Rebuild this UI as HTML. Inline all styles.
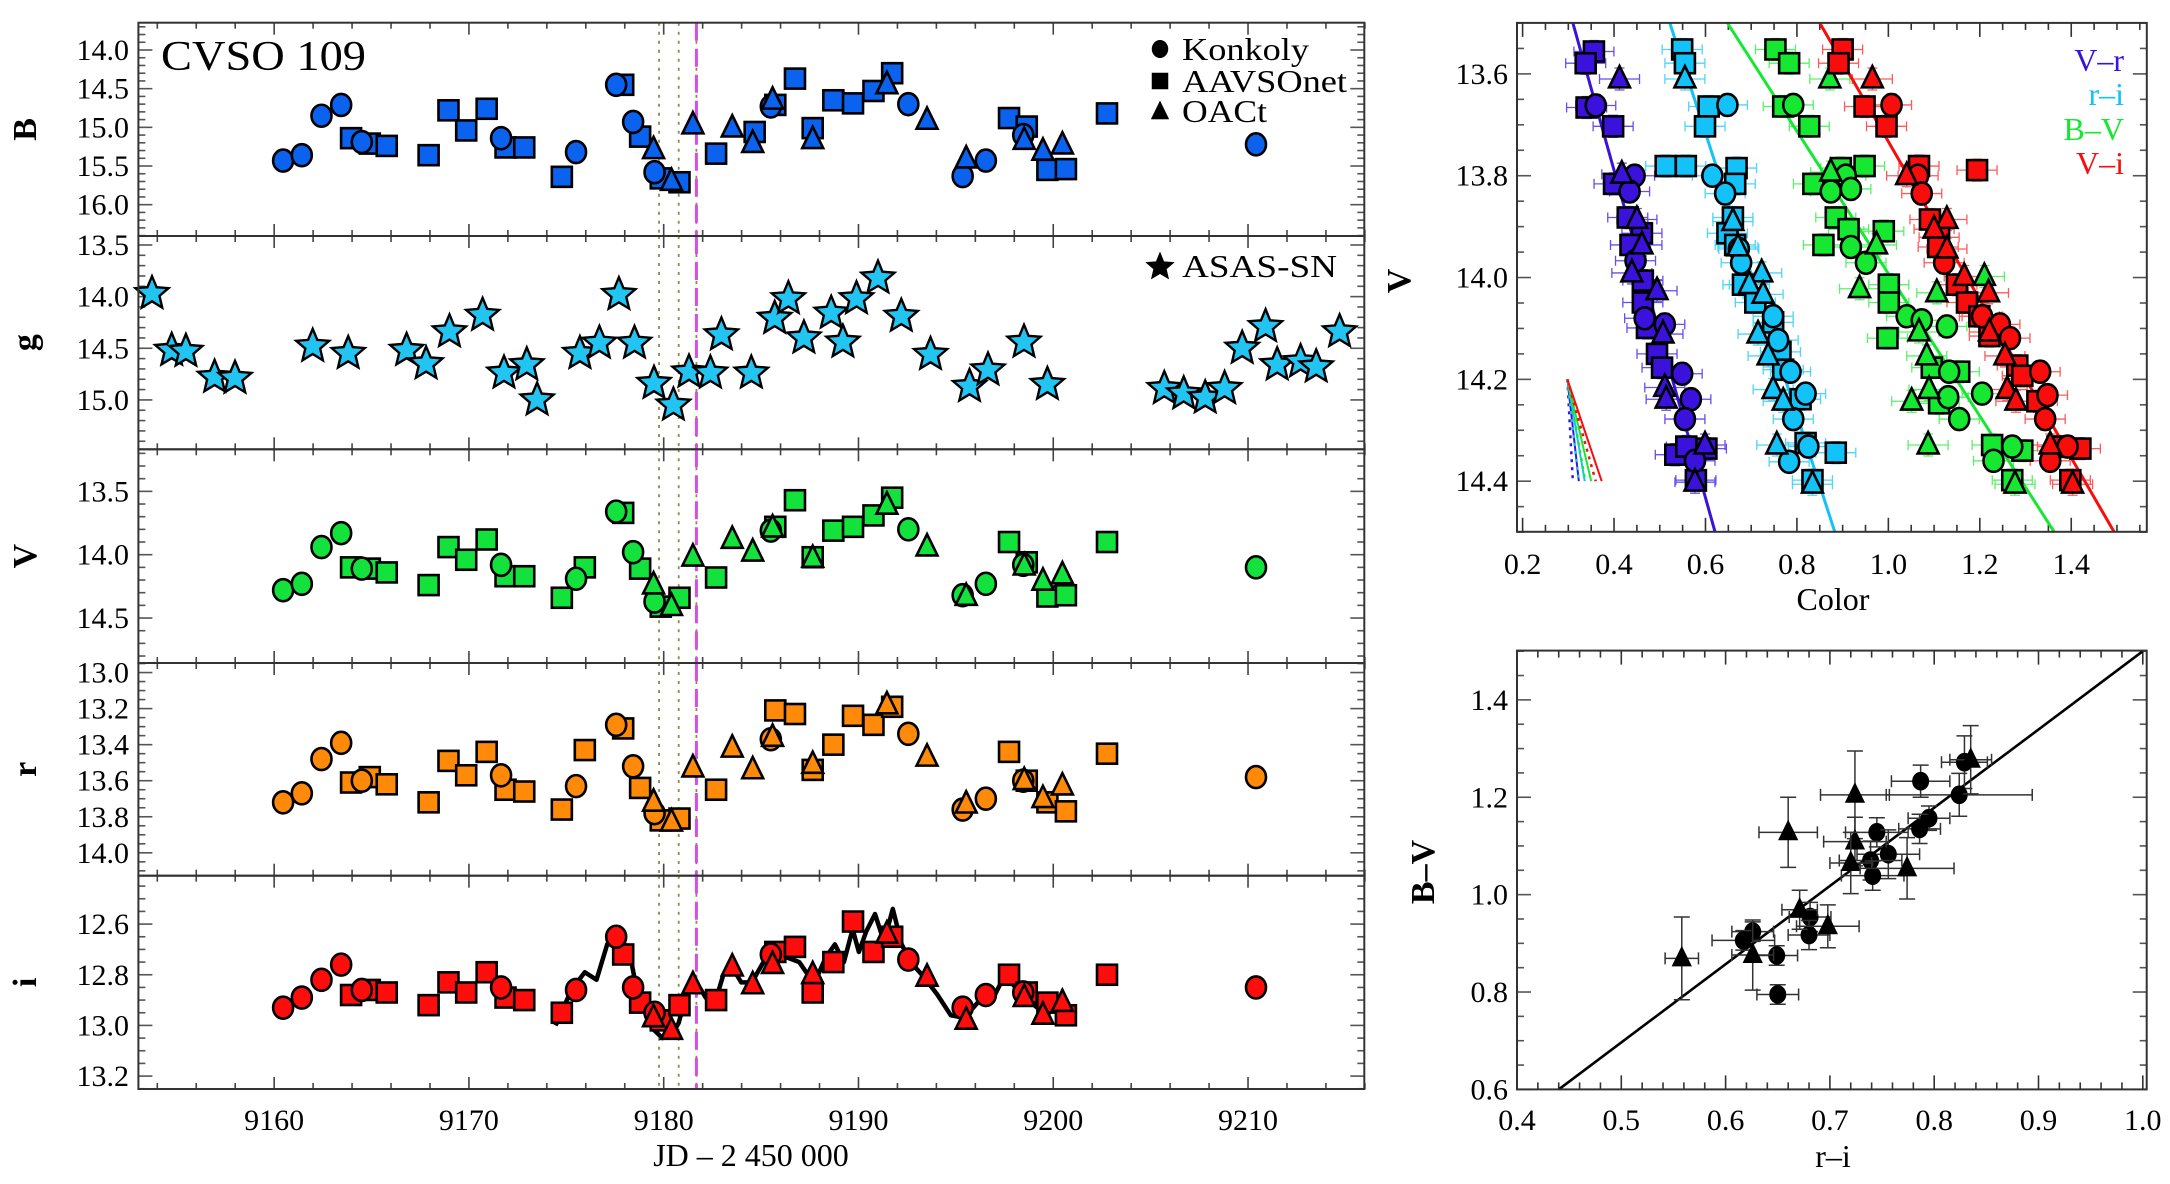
<!DOCTYPE html>
<html><head><meta charset="utf-8"><style>
html,body{margin:0;padding:0;background:#fff}
svg{display:block}
text{font-family:"Liberation Serif",serif;fill:#000}
</style></head><body>
<svg id="fig" xmlns="http://www.w3.org/2000/svg" width="2170" height="1184" viewBox="0 0 2170 1184"></svg>
<script>
// ---------- Light-curve data ----------
const konkolyJD=[9160.46,9161.42,9162.43,9163.44,9164.50,9171.65,9175.50,9177.56,9178.43,9179.53,9185.50,9192.56,9195.35,9196.54,9198.46,9210.41];
const konkolyB=[15.43,15.36,14.85,14.71,15.19,15.14,15.32,14.45,14.93,15.58,14.73,14.70,15.63,15.43,15.10,15.22];
const konkolyV=[14.28,14.23,13.94,13.83,14.11,14.08,14.19,13.66,13.98,14.37,13.81,13.80,14.32,14.23,14.08,14.10];
const konkolyR=[13.72,13.67,13.48,13.39,13.60,13.57,13.63,13.29,13.52,13.78,13.37,13.34,13.76,13.70,13.60,13.58];
const konkolyI=[12.93,12.89,12.82,12.76,12.86,12.85,12.86,12.65,12.85,12.95,12.72,12.74,12.93,12.88,12.87,12.85];

const aavsoJD=[9163.95,9164.91,9165.78,9167.93,9168.95,9169.86,9170.91,9171.88,9172.84,9174.77,9175.95,9177.92,9178.79,9179.85,9180.81,9182.69,9184.67,9185.73,9186.74,9187.65,9188.71,9189.72,9190.77,9191.73,9197.73,9198.64,9199.70,9200.65,9202.76];
const aavsoB=[15.14,15.21,15.24,15.36,14.78,15.04,14.76,15.26,15.26,15.64,null,14.45,15.12,15.66,15.71,15.34,15.06,14.71,14.37,15.01,14.65,14.69,14.53,14.30,14.88,14.99,15.55,15.54,14.82];
const aavsoV=[14.10,14.11,14.14,14.24,13.94,14.04,13.88,14.17,14.17,14.34,14.10,13.67,14.11,14.41,14.34,14.18,null,13.78,13.57,14.02,13.81,13.78,13.69,13.55,13.90,14.06,14.33,14.32,13.90];
const aavsoR=[13.61,13.58,13.62,13.72,13.49,13.57,13.44,13.65,13.66,13.76,13.43,13.31,13.64,13.82,13.81,13.65,null,13.21,13.23,13.54,13.40,13.24,13.29,13.19,13.44,13.60,13.72,13.77,13.45];
const aavsoI=[12.88,12.86,12.87,12.92,12.83,12.87,12.79,12.89,12.90,12.95,null,12.72,12.91,12.98,12.92,12.90,null,12.71,12.69,12.87,12.75,12.59,12.71,12.65,12.80,12.87,12.91,12.96,12.80];

const oactJD=[9179.48,9180.40,9181.50,9183.52,9184.57,9185.59,9187.65,9191.46,9193.52,9195.53,9198.51,9199.47,9200.47];
const oactB=[15.29,15.70,14.97,15.01,15.21,14.65,15.16,14.45,14.91,15.41,15.17,15.31,15.23];
const oactV=[14.24,14.41,14.02,13.88,13.98,13.79,14.03,13.61,13.94,14.33,14.09,14.21,14.16];
const oactR=[13.72,13.83,13.53,13.42,13.54,13.36,13.51,13.18,13.47,13.73,13.60,13.70,13.63];
const oactI=[12.97,13.02,12.84,12.77,12.84,12.76,12.80,12.64,12.81,12.98,12.89,12.96,12.91];

const asasJD=[9153.73,9154.74,9155.47,9156.94,9157.99,9161.98,9163.80,9166.80,9167.80,9169.00,9170.70,9171.80,9172.97,9173.50,9175.70,9176.70,9177.70,9178.50,9179.50,9180.50,9181.30,9182.40,9182.96,9184.50,9185.70,9186.40,9187.20,9188.60,9189.20,9189.90,9191.00,9192.20,9193.70,9195.70,9196.65,9198.50,9199.70,9205.70,9206.70,9207.80,9208.80,9209.70,9210.90,9211.50,9212.70,9213.50,9214.70];
const asasG=[13.97,14.52,14.53,14.78,14.79,14.48,14.55,14.52,14.65,14.34,14.18,14.74,14.66,15.00,14.55,14.45,13.98,14.45,14.84,15.05,14.73,14.74,14.37,14.74,14.21,14.02,14.40,14.16,14.44,14.02,13.82,14.19,14.56,14.87,14.71,14.44,14.85,14.89,14.94,14.98,14.89,14.50,14.29,14.66,14.63,14.68,14.34];

const tessJD=[9174.45,9175.26,9175.95,9176.55,9177.10,9177.56,9178.00,9178.34,9178.57,9178.93,9179.39,9179.94,9180.40,9180.77,9181.23,9181.69,9182.15,9182.60,9183.06,9183.52,9183.98,9184.53,9185.12,9185.59,9186.27,9186.96,9187.41,9187.87,9188.33,9188.79,9189.25,9189.70,9190.02,9190.39,9190.85,9191.31,9191.76,9192.22,9192.68,9193.37,9194.06,9194.74,9195.43,9195.89,9196.35,9196.80,9197.26,9197.63,9197.95,9198.41,9198.87,9199.33,9199.79,9200.25,9200.71];
const tessI=[13.00,12.86,12.79,12.82,12.68,12.63,12.68,12.75,12.84,12.93,13.01,13.05,13.04,12.99,12.86,12.83,12.89,12.92,12.80,12.77,12.83,12.83,12.75,12.71,12.73,12.75,12.80,12.81,12.73,12.68,12.75,12.62,12.71,12.63,12.56,12.67,12.54,12.68,12.75,12.81,12.88,12.96,12.97,12.93,12.89,12.91,12.84,12.77,12.84,12.88,12.91,12.94,12.95,12.91,12.94];

const markerJD=[9179.76,9180.77,9181.68];
const eventJD=9181.68;
const jdTicks=[9160,9170,9180,9190,9200,9210];

// ---------- Colour-magnitude data ----------
const vrSqC=[0.356,0.338,0.340,0.398,0.400,0.430,0.461,0.436,0.463,0.463,0.472,0.494,0.505,0.534,0.579,0.558,0.602];
const vrSqV=[13.556,13.579,13.666,13.703,13.816,13.882,13.913,13.936,14.006,14.049,14.099,14.150,14.177,14.348,14.398,14.332,14.336];
const vrCiC=[0.360,0.445,0.434,0.447,0.467,0.511,0.549,0.568,0.555,0.577];
const vrCiV=[13.662,13.800,13.831,13.967,14.080,14.092,14.189,14.239,14.278,14.360];
const vrTrC=[0.412,0.417,0.450,0.461,0.439,0.494,0.507,0.511,0.514,0.599,0.577];
const vrTrV=[13.610,13.797,13.886,13.936,13.991,14.026,14.111,14.216,14.239,14.329,14.402];

const riSqC=[0.549,0.555,0.607,0.599,0.513,0.557,0.668,0.665,0.660,0.648,0.665,0.682,0.709,0.748,0.764,0.770,0.808,0.819,0.885,0.834];
const riSqV=[13.552,13.579,13.664,13.703,13.781,13.781,13.785,13.816,13.882,13.913,13.936,14.014,14.049,14.088,14.146,14.181,14.239,14.325,14.344,14.398];
const riCiC=[0.648,0.615,0.643,0.673,0.678,0.748,0.759,0.786,0.819,0.792,0.825,0.783];
const riCiV=[13.661,13.800,13.835,13.944,13.971,14.076,14.123,14.185,14.228,14.278,14.332,14.362];
const riTrC=[0.555,0.660,0.671,0.723,0.696,0.726,0.715,0.737,0.748,0.770,0.756,0.834];
const riTrV=[13.610,13.890,13.940,13.991,14.014,14.033,14.111,14.154,14.220,14.243,14.329,14.406];

const bvSqC=[0.753,0.783,0.770,0.827,0.896,0.948,0.836,0.885,0.913,0.990,0.858,1.001,1.001,0.998,1.095,1.155,1.111,1.227,1.293,1.271];
const bvSqV=[13.552,13.579,13.664,13.703,13.785,13.781,13.816,13.882,13.905,13.909,13.936,14.014,14.049,14.119,14.177,14.185,14.247,14.329,14.340,14.398];
const bvCiC=[0.792,0.907,0.874,0.918,0.918,0.951,1.040,1.073,1.128,1.133,1.131,1.155,1.205,1.271,1.230];
const bvCiV=[13.661,13.800,13.831,13.826,13.940,13.971,14.076,14.084,14.096,14.185,14.235,14.278,14.228,14.332,14.360];
const bvTrC=[0.872,0.874,0.974,0.937,1.210,1.106,1.067,1.084,1.089,1.051,1.087,1.277];
const bvTrV=[13.610,13.793,13.936,14.022,13.998,14.030,14.107,14.154,14.220,14.243,14.329,14.406];

const viSqC=[0.900,0.891,0.948,0.996,1.067,1.194,1.091,1.111,1.109,1.150,1.172,1.199,1.221,1.282,1.293,1.326,1.370,1.420,1.398];
const viSqV=[13.552,13.579,13.664,13.703,13.781,13.789,13.886,13.921,13.940,14.014,14.049,14.076,14.115,14.173,14.193,14.243,14.332,14.336,14.398];
const viCiC=[1.007,1.065,1.073,1.122,1.205,1.244,1.266,1.332,1.348,1.343,1.392,1.354];
const viCiV=[13.661,13.800,13.835,13.971,14.076,14.092,14.119,14.185,14.231,14.278,14.332,14.360];
const viTrC=[0.965,1.040,1.128,1.100,1.128,1.166,1.219,1.221,1.255,1.260,1.279,1.354,1.403];
const viTrV=[13.610,13.800,13.886,13.905,13.944,13.998,14.030,14.107,14.154,14.220,14.243,14.329,14.406];

// fit lines: colour at V=13.5 and V=14.5
const fitVr=[0.310,0.621], fitRi=[0.522,0.883], fitBv=[0.648,1.363], fitVi=[0.850,1.494];
// reddening vectors: start colour/V, end colour at V=14.4
const redStart=[0.298,14.2];
const redEnd=[0.323,0.336,0.350,0.373];
const cmdXTicks=[0.2,0.4,0.6,0.8,1.0,1.2,1.4];
const cmdYTicks=[13.6,13.8,14.0,14.2,14.4];

// ---------- Colour-colour data ----------
const ccCiRI=[0.829,0.787,0.824,0.795,0.786,0.745,0.756,0.739,0.741,0.681,0.680,0.626,0.617,0.649,0.650];
const ccCiBV=[1.272,1.233,1.205,1.157,1.135,1.128,1.083,1.070,1.039,0.954,0.917,0.924,0.906,0.875,0.795];
const ccCiXe=[0.022,0.028,0.070,0.02,0.02,0.03,0.03,0.03,0.03,0.02,0.02,0.02,0.03,0.02,0.02];
const ccCiYe=[0.054,0.033,0.044,0.025,0.03,0.03,0.05,0.04,0.03,0.03,0.03,0.02,0.02,0.02,0.02];
const ccTrRI=[0.835,0.724,0.660,0.724,0.720,0.774,0.671,0.698,0.626,0.558];
const ccTrBV=[1.277,1.205,1.128,1.109,1.065,1.054,0.969,0.935,0.876,0.869];
const ccTrXe=[0.02,0.033,0.028,0.03,0.02,0.045,0.017,0.03,0.02,0.016];
const ccTrYe=[0.07,0.09,0.072,0.05,0.063,0.063,0.04,0.044,0.072,0.085];
const ccFit=[0.44,0.60,1.00,1.50];
const ccXTicks=[0.4,0.5,0.6,0.7,0.8,0.9,1.0];
const ccYTicks=[0.6,0.8,1.0,1.2,1.4];

// ---------- helpers ----------
const NS='http://www.w3.org/2000/svg';
const svg=document.getElementById('fig');
function mk(tag,attrs,parent){const e=document.createElementNS(NS,tag);for(const k in attrs)e.setAttribute(k,attrs[k]);(parent||svg).appendChild(e);return e;}
function txt(s,attrs,parent){const e=mk('text',attrs,parent);e.textContent=s;return e;}
function starPts(cx,cy,R){let p=[];for(let k=0;k<10;k++){const r=k%2?R*0.45:R;const a=-Math.PI/2+k*Math.PI/5;p.push((cx+r*Math.cos(a)).toFixed(1)+','+(cy+r*Math.sin(a)).toFixed(1));}return p.join(' ');}
function marker(shape,cx,cy,s,fill,g,sw){
  let e;sw=sw||2.6;
  if(shape==='circle')e=mk('ellipse',{cx:cx,cy:cy,rx:s*0.5,ry:s*0.55,fill:fill,stroke:'#000','stroke-width':sw},g);
  else if(shape==='square')e=mk('rect',{x:cx-s/2,y:cy-s/2,width:s,height:s,fill:fill,stroke:'#000','stroke-width':sw},g);
  else if(shape==='triangle'){const h=s*1.1;e=mk('polygon',{points:`${cx},${cy-h*0.62} ${cx-s*0.55},${cy+h*0.4} ${cx+s*0.55},${cy+h*0.4}`,fill:fill,stroke:'#000','stroke-width':sw},g);}
  else e=mk('polygon',{points:starPts(cx,cy,s*0.62),fill:fill,stroke:'#000','stroke-width':sw},g);
  return e;
}

// ---------- left light-curve panels ----------
const LX0=138.4,LX1=1364.3,JD0=9153.03,JD1=9215.97;
function xL(jd){return LX0+(jd-JD0)/(JD1-JD0)*(LX1-LX0);}
const panels=[
 {band:'B',top:22.7,bot:236,m0:13.647,m1:16.405,ticks:[14.0,14.5,15.0,15.5,16.0],minor:0.1,col:'#0a62ee',k:konkolyB,a:aavsoB,o:oactB},
 {band:'g',top:236,bot:449.3,m0:13.413,m1:15.478,ticks:[13.5,14.0,14.5,15.0],minor:0.1,col:'#22c4f2'},
 {band:'V',top:449.3,bot:663,m0:13.168,m1:14.855,ticks:[13.5,14.0,14.5],minor:0.1,col:'#14e23c',k:konkolyV,a:aavsoV,o:oactV},
 {band:'r',top:663,bot:875.7,m0:12.947,m1:14.127,ticks:[13.0,13.2,13.4,13.6,13.8,14.0],minor:0.05,col:'#ff8a0a',k:konkolyR,a:aavsoR,o:oactR},
 {band:'i',top:875.7,bot:1089,m0:12.409,m1:13.251,ticks:[12.6,12.8,13.0,13.2],minor:0.05,col:'#ff0c0c',k:konkolyI,a:aavsoI,o:oactI}
];
panels.forEach(p=>{
  const g=mk('g',{});
  
  
  const yM=m=>p.top+(m-p.m0)/(p.m1-p.m0)*(p.bot-p.top);
  // ticks x
  for(let d=9154;d<=9216;d+=2){
    const x=xL(d);const maj=(d%10===0);const L=maj?12:6;
    mk('line',{x1:x,y1:p.top,x2:x,y2:p.top+L,stroke:'#444','stroke-width':1.6},g);
    mk('line',{x1:x,y1:p.bot,x2:x,y2:p.bot-L,stroke:'#444','stroke-width':1.6},g);
  }
  // ticks y
  const n0=Math.ceil(p.m0/p.minor-1e-6),n1=Math.floor(p.m1/p.minor+1e-6);
  for(let n=n0;n<=n1;n++){
    const m=n*p.minor;const y=yM(m);
    const maj=p.ticks.some(t=>Math.abs(t-m)<1e-6);const L=maj?14:7;
    mk('line',{x1:LX0,y1:y,x2:LX0+L,y2:y,stroke:'#555','stroke-width':1.6},g);
    mk('line',{x1:LX1,y1:y,x2:LX1-L,y2:y,stroke:'#555','stroke-width':1.6},g);
  }
  p.ticks.forEach(t=>{
    const tl=txt(t.toFixed(1),{x:129,y:yM(t)+10,'font-size':30,'text-anchor':'end'},g);
    
    
  });
  const ttl=txt(p.band,{x:0,y:0,'font-size':34,'font-weight':'bold','text-anchor':'middle',transform:`translate(36,${(p.top+p.bot)/2}) rotate(-90)`},g);
  
  
  // event lines
  markerJD.forEach(j=>{
    const vl=mk('line',{x1:xL(j),y1:p.top,x2:xL(j),y2:p.bot,stroke:'#8c8c45','stroke-width':1.8,'stroke-dasharray':'3,6'},g);
    
    
  });
  const ev=mk('line',{x1:xL(eventJD),y1:p.top,x2:xL(eventJD),y2:p.bot,stroke:'#d64ee8','stroke-width':3,'stroke-dasharray':'18,8'},g);
  
  
  // data
  if(p.band==='g'){
    asasJD.forEach((j,k)=>{
      const s=marker('star',xL(j),yM(asasG[k]),28,p.col,g,2.4);
      
      
    });
  } else {
    if(p.band==='i'){
      const pl=mk('polyline',{points:tessJD.map((j,k)=>xL(j).toFixed(1)+','+yM(tessI[k]).toFixed(1)).join(' '),fill:'none',stroke:'#000','stroke-width':4.5,'stroke-linejoin':'round'},g);
      
      
    }
    aavsoJD.forEach((j,k)=>{ if(p.a[k]==null)return;
      const s=marker('square',xL(j),yM(p.a[k]),20,p.col,g);
      
      
    });
    konkolyJD.forEach((j,k)=>{
      const s=marker('circle',xL(j),yM(p.k[k]),20,p.col,g);
      
      
    });
    oactJD.forEach((j,k)=>{
      const s=marker('triangle',xL(j),yM(p.o[k]),19,p.col,g);
      
      
    });
  }
  const fr=mk('rect',{x:LX0,y:p.top,width:LX1-LX0,height:p.bot-p.top,fill:'none',stroke:'#333','stroke-width':2},g);
  
  
});
jdTicks.forEach(t=>{
  const tl=txt(String(t),{x:xL(t),y:1130,'font-size':30,'text-anchor':'middle'});
  
  
});
const jdT=txt('JD – 2 450 000',{x:751,y:1166,'font-size':32,'text-anchor':'middle'});


const ttlC=txt('CVSO 109',{x:161,y:70,'font-size':42,textLength:205,lengthAdjust:'spacingAndGlyphs'});


// legend
const leg=mk('g',{});


[['circle','Konkoly',49,60,127],['square','AAVSOnet',81,92,165],['triangle','OACt',112,122,85],['star','ASAS-SN',267,277,155]].forEach(r=>{
  const m=marker(r[0],1160,r[2],r[0]==='star'?24:16,'#000',leg,0.5);
  
  
  const t=txt(r[1],{x:1182,y:r[3],'font-size':32,textLength:r[4],lengthAdjust:'spacingAndGlyphs'},leg);
  
  
});

// ---------- colour-magnitude panel ----------
const CX0=1517,CX1=2146.8,CY0=22.9,CY1=531.8;
function xC(c){return 1522.6+(c-0.2)*457.2;}
function yC(v){return 73.9+(v-13.6)*509.1;}
const cmd=mk('g',{});


for(let n=4;n<=31;n++){const c=n*0.05;const x=xC(c);if(x<CX0||x>CX1)continue;const maj=n%4===0;const L=maj?14:7;
  mk('line',{x1:x,y1:CY1,x2:x,y2:CY1-L,stroke:'#333','stroke-width':1.6},cmd);
  mk('line',{x1:x,y1:CY0,x2:x,y2:CY0+L,stroke:'#333','stroke-width':1.6},cmd);}
for(let n=270;n<=290;n++){const v=n*0.05;const y=yC(v);if(y<CY0-0.5||y>CY1+0.5)continue;const maj=n%4===0;const L=maj?14:7;
  mk('line',{x1:CX0,y1:y,x2:CX0+L,y2:y,stroke:'#555','stroke-width':1.6},cmd);
  mk('line',{x1:CX1,y1:y,x2:CX1-L,y2:y,stroke:'#555','stroke-width':1.6},cmd);}
cmdXTicks.forEach(t=>{const e=txt(t.toFixed(1),{x:xC(t),y:574,'font-size':30,'text-anchor':'middle'},cmd);
  
  });
cmdYTicks.forEach(t=>{const e=txt(t.toFixed(1),{x:1508,y:yC(t)+10,'font-size':30,'text-anchor':'end'},cmd);
  
  });
const cxT=txt('Color',{x:1833,y:610,'font-size':32,'text-anchor':'middle'},cmd);


const cyT=txt('V',{x:0,y:0,'font-size':34,'font-weight':'bold','text-anchor':'middle',transform:'translate(1410,281) rotate(-90)'},cmd);


const clip=mk('clipPath',{id:'cmdclip'});mk('rect',{x:CX0,y:CY0,width:CX1-CX0,height:CY1-CY0},clip);
const cmdData=mk('g',{'clip-path':'url(#cmdclip)'},cmd);
const series=[
 {name:'v-r',col:'#3a12dc',err:'#6a4cf0',fit:fitVr,sets:[['square',vrSqC,vrSqV],['circle',vrCiC,vrCiV],['triangle',vrTrC,vrTrV]]},
 {name:'r-i',col:'#12c2f8',err:'#50d4fa',fit:fitRi,sets:[['square',riSqC,riSqV],['circle',riCiC,riCiV],['triangle',riTrC,riTrV]]},
 {name:'b-v',col:'#16e832',err:'#5cf06a',fit:fitBv,sets:[['square',bvSqC,bvSqV],['circle',bvCiC,bvCiV],['triangle',bvTrC,bvTrV]]},
 {name:'v-i',col:'#f80c0c',err:'#fa5c5c',fit:fitVi,sets:[['square',viSqC,viSqV],['circle',viCiC,viCiV],['triangle',viTrC,viTrV]]}
];
series.forEach(s=>{
  s.sets.forEach(st=>{st[1].forEach((c,k)=>{const x=xC(c),y=yC(st[2][k]);
    const eb=mk('path',{d:`M${x-20},${y}H${x+20}M${x},${y-11}V${y+11}M${x-20},${y-5}V${y+5}M${x+20},${y-5}V${y+5}M${x-5},${y-11}H${x+5}M${x-5},${y+11}H${x+5}`,stroke:s.err,'stroke-width':1.3,fill:'none'},cmdData);
    
    
  });});
});
series.forEach(s=>{
  const fl=mk('line',{x1:xC(s.fit[0]),y1:yC(13.5),x2:xC(s.fit[1]),y2:yC(14.5),stroke:s.col,'stroke-width':3},cmdData);
  
  
});
series.forEach(s=>{
  s.sets.forEach(st=>{st[1].forEach((c,k)=>{
    const m=marker(st[0],xC(c),yC(st[2][k]),st[0]==='triangle'?19:20,s.col,cmdData);
    
    
  });});
});
series.forEach((s,k)=>{
  const a=mk('line',{x1:xC(redStart[0]),y1:yC(redStart[1]),x2:xC(redEnd[k]),y2:yC(14.4),stroke:s.col,'stroke-width':2},cmd);
  
  
  const b=mk('line',{x1:xC(redStart[0]),y1:yC(redStart[1]),x2:xC(redEnd[k])-6,y2:yC(14.4),stroke:s.col,'stroke-width':2.5,'stroke-dasharray':'3,5'},cmd);
  
  
});
[['V–r','#3a12dc',71],['r–i','#12c2f8',105],['B–V','#16e832',140],['V–i','#f80c0c',174]].forEach(r=>{
  const t=txt(r[0],{x:2124,y:r[2],'font-size':32,'text-anchor':'end',fill:r[1],style:'fill:'+r[1]},cmd);
  
  
});
const cfr=mk('rect',{x:CX0,y:CY0,width:CX1-CX0,height:CY1-CY0,fill:'none',stroke:'#333','stroke-width':2},cmd);



// ---------- colour-colour panel ----------
const RX0=1517,RX1=2146.7,RY0=650.6,RY1=1089.4;
function xR(x){return 1517+(x-0.4)*1043;}
function yR(y){return 1089.4-(y-0.6)*486.9;}
const cc=mk('g',{});


for(let n=20;n<=50;n++){const x=xR(n*0.02);if(x>RX1+0.5)continue;const maj=n%5===0;const L=maj?14:7;
  mk('line',{x1:x,y1:RY1,x2:x,y2:RY1-L,stroke:'#333','stroke-width':1.6},cc);
  mk('line',{x1:x,y1:RY0,x2:x,y2:RY0+L,stroke:'#333','stroke-width':1.6},cc);}
for(let n=12;n<=30;n++){const y=yR(n*0.05);if(y<RY0-0.5)continue;const maj=n%4===0;const L=maj?14:7;
  mk('line',{x1:RX0,y1:y,x2:RX0+L,y2:y,stroke:'#555','stroke-width':1.6},cc);
  mk('line',{x1:RX1,y1:y,x2:RX1-L,y2:y,stroke:'#555','stroke-width':1.6},cc);}
ccXTicks.forEach(t=>{const e=txt(t.toFixed(1),{x:xR(t),y:1130,'font-size':30,'text-anchor':'middle'},cc);
  
  });
ccYTicks.forEach(t=>{const e=txt(t.toFixed(1),{x:1508,y:yR(t)+10,'font-size':30,'text-anchor':'end'},cc);
  
  });
const rxT=txt('r–i',{x:1833,y:1167,'font-size':32,'text-anchor':'middle'},cc);


const ryT=txt('B–V',{x:0,y:0,'font-size':34,'font-weight':'bold','text-anchor':'middle',transform:'translate(1434,872) rotate(-90)'},cc);


const ccl=mk('line',{x1:xR(ccFit[0]),y1:yR(ccFit[1]),x2:xR(ccFit[2]),y2:yR(ccFit[3]),stroke:'#000','stroke-width':2.6},cc);


function ccPoints(X,Y,XE,YE,shape){
  X.forEach((x,k)=>{const px=xR(x),py=yR(Y[k]);const dx=XE[k]*1043,dy=YE[k]*486.9;
    const eb=mk('path',{d:`M${px-dx},${py}H${px+dx}M${px-dx},${py-6}V${py+6}M${px+dx},${py-6}V${py+6}M${px},${py-dy}V${py+dy}M${px-8},${py-dy}H${px+8}M${px-8},${py+dy}H${px+8}`,stroke:'#333','stroke-width':1.5,fill:'none'},cc);
    
    
    const m=marker(shape,px,py,shape==='triangle'?17:16,'#000',cc,1);
    
    
  });
}
ccPoints(ccCiRI,ccCiBV,ccCiXe,ccCiYe,'circle');
ccPoints(ccTrRI,ccTrBV,ccTrXe,ccTrYe,'triangle');
const rfr=mk('rect',{x:RX0,y:RY0,width:RX1-RX0,height:RY1-RY0,fill:'none',stroke:'#333','stroke-width':2},cc);


</script>
</body></html>
